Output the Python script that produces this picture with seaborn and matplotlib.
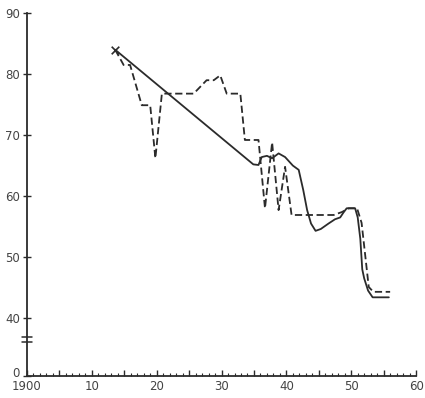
import matplotlib
matplotlib.use("Agg")
import matplotlib.pyplot as plt
import matplotlib.transforms as mtransforms
import seaborn as sns
import pandas as pd
import numpy as np

# Solid series (year, value)
solid_years = [1913.6, 1934.9, 1935.7, 1936.2, 1937.0, 1937.8, 1938.8, 1939.8, 1941.0,
               1941.9, 1942.6, 1943.2, 1943.8, 1944.5, 1945.3, 1946.5, 1947.5, 1948.3,
               1948.8, 1949.3, 1950.6, 1951.0, 1951.4, 1951.7, 1952.0, 1952.6, 1953.3, 1955.8]
solid_values = [84.0, 65.2, 65.1, 66.4, 66.6, 66.2, 67.0, 66.4, 65.0,
                64.3, 61.0, 57.7, 55.5, 54.3, 54.6, 55.5, 56.2, 56.5,
                57.3, 58.0, 58.0, 56.5, 53.0, 48.0, 46.5, 44.5, 43.4, 43.4]

# Dashed series (year, value)
dashed_years = [1913.6, 1914.9, 1915.9, 1917.7, 1919.0, 1919.8, 1920.8, 1925.7, 1927.7,
                1928.8, 1929.8, 1930.8, 1932.9, 1933.6, 1935.7, 1936.7, 1937.8, 1938.8,
                1939.8, 1940.8, 1947.3, 1948.6, 1949.6, 1950.9, 1951.6, 1952.7, 1953.4, 1956.0]
dashed_values = [84.0, 81.5, 81.5, 74.9, 74.9, 66.2, 76.8, 76.8, 79.0,
                 79.0, 79.8, 76.8, 76.8, 69.2, 69.2, 58.0, 68.8, 57.7,
                 64.8, 56.9, 56.9, 57.4, 58.0, 58.0, 55.6, 45.1, 44.3, 44.3]

x_ticks = [1900, 1905, 1910, 1915, 1920, 1925, 1930, 1935, 1940, 1945, 1950, 1955, 1960]
x_labels = ["1900", "", "10", "", "20", "", "30", "", "40", "", "50", "", "60"]
y_ticks = [40, 50, 60, 70, 80, 90]
y_labels = ["40", "50", "60", "70", "80", "90"]

sns.set_style("white")
plt.rcParams['font.family'] = ['DejaVu Sans']

df = pd.concat([
    pd.DataFrame({"year": solid_years, "value": solid_values, "series": "a"}),
    pd.DataFrame({"year": dashed_years, "value": dashed_values, "series": "b"}),
])

fig = plt.figure(figsize=(4.25, 3.98), dpi=100)
ax = fig.add_axes([0.0635, 0.0553, 0.9155, 0.9117])
ink = "#2b2b2b"

sns.lineplot(data=df, x="year", y="value", style="series", estimator=None, sort=False,
             dashes={"a": "", "b": (4.0, 2.0)}, color=ink, linewidth=1.3,
             legend=False, ax=ax)
sns.scatterplot(x=[solid_years[0]], y=[solid_values[0]], marker="x", s=30,
                color=ink, linewidth=1.2, ax=ax)

y_zero = 30.5
ax.set_xlim(1900, 1960)
ax.set_ylim(y_zero, 90)
ax.set_xlabel("")
ax.set_ylabel("")

ax.set_xticks(x_ticks)
ax.set_xticklabels(x_labels)
ax.set_xticks(np.arange(1900, 1961, 1), minor=True)
ax.set_yticks([y_zero] + y_ticks)
ax.set_yticklabels(["0"] + y_labels)

for s in ["top", "right"]:
    ax.spines[s].set_visible(False)
for s in ["left", "bottom"]:
    ax.spines[s].set_color(ink)
    ax.spines[s].set_linewidth(1.3)

ax.tick_params(axis="x", which="both", bottom=True)
ax.tick_params(axis="x", which="major", direction="in", length=4.5, width=1.0,
               color=ink, labelsize=8.5, labelcolor="#444444", pad=3)
ax.tick_params(axis="x", which="minor", direction="in", length=2.5, width=0.8, color=ink)
ax.tick_params(axis="y", which="major", left=True, direction="inout", length=6, width=1.0,
               color=ink, labelsize=8.5, labelcolor="#444444", pad=2)

# lift the "0" label slightly so it clears the "1900" label
zero_lbl = ax.get_yticklabels()[0]
zero_lbl.set_transform(zero_lbl.get_transform() +
                       mtransforms.ScaledTranslation(0, 3 / 72, fig.dpi_scale_trans))

# axis break marks
for yy in [36.0, 36.9]:
    ax.plot([-0.012, 0.012], [yy, yy], transform=ax.get_yaxis_transform(),
            color=ink, linewidth=1.1, clip_on=False)

fig.savefig("out.png", dpi=100, facecolor="white")
